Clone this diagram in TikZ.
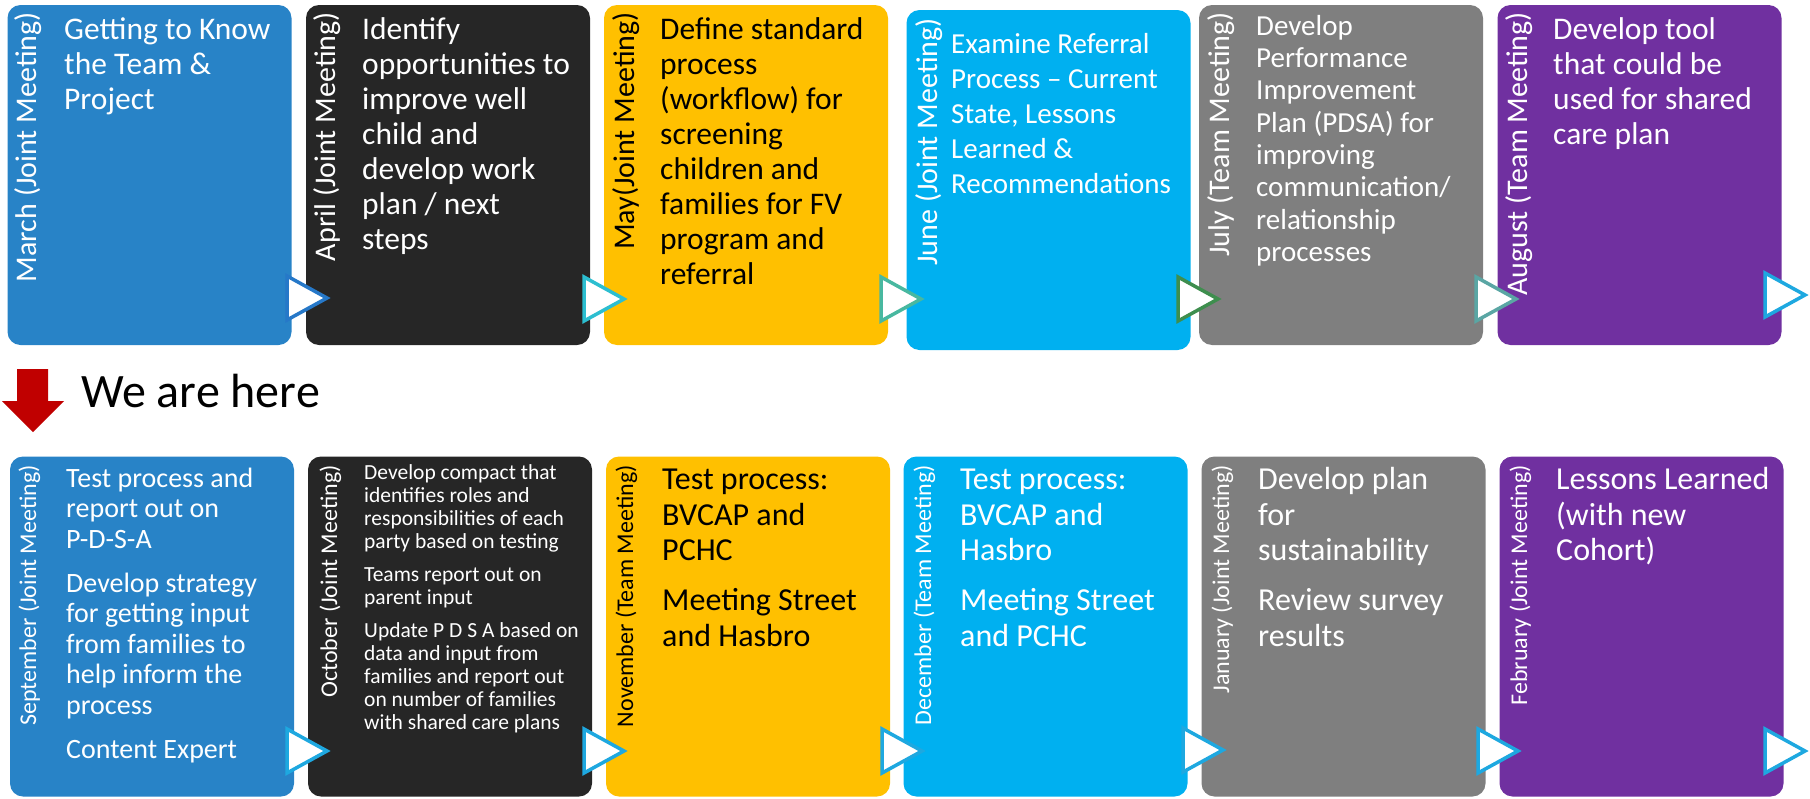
\documentclass[tikz,border=0pt]{standalone}
\usepackage{fontspec}
\setmainfont{Carlito}
\definecolor{mblue}{RGB}{40,131,199}
\definecolor{mdark}{RGB}{38,38,38}
\definecolor{mgold}{RGB}{255,192,0}
\definecolor{mcyan}{RGB}{0,176,240}
\definecolor{mgray}{RGB}{127,127,127}
\definecolor{mpurple}{RGB}{112,48,160}
\definecolor{mred}{RGB}{192,0,0}
\definecolor{tblue}{RGB}{38,120,200}
\definecolor{tteal}{RGB}{44,190,208}
\definecolor{tsea}{RGB}{72,184,160}
\definecolor{tgreen}{RGB}{62,142,78}
\definecolor{tslate}{RGB}{90,166,164}
\definecolor{tsky}{RGB}{30,168,224}
\begin{document}
\begin{tikzpicture}[
  x=1pt,y=-1pt,
  box/.style={rectangle,rounded corners=13pt,minimum width=284pt,minimum height=340pt,inner sep=0pt},
  month/.style={rotate=90,anchor=base east,inner sep=0pt,text=white,font=\fontsize{30}{34}\selectfont},
  month2/.style={month,font=\fontsize{24}{28}\selectfont},
  task/.style={anchor=north west,align=left,inner sep=0pt,text=white,font=\fontsize{31.5}{35}\selectfont},
  tri/.style={fill=white,line width=3.5pt,line join=miter}
]
\useasboundingbox (0,0) rectangle (1810,798);
\node[box,fill=mblue] (mar) at (149.5,175) {};
\node[box,fill=mdark] (apr) at (448,175) {};
\node[box,fill=mgold] (may) at (746,175) {};
\node[box,fill=mcyan] (jun) at (1048.5,180) {};
\node[box,fill=mgray] (jul) at (1341,175) {};
\node[box,fill=mpurple] (aug) at (1639.5,175) {};
\node[box,fill=mblue] (sep) at (152,626.5) {};
\node[box,fill=mdark] (oct) at (450,626.5) {};
\node[box,fill=mgold] (nov) at (748,626.5) {};
\node[box,fill=mcyan] (dec) at (1045.5,626.5) {};
\node[box,fill=mgray] (jan) at (1343.5,626.5) {};
\node[box,fill=mpurple] (feb) at (1641.5,626.5) {};
\draw[tri,draw=tblue] (287,276) -- (327,298) -- (287,320) -- cycle;
\draw[tri,draw=tteal] (584,277) -- (624,299) -- (584,321) -- cycle;
\draw[tri,draw=tsea] (881,277) -- (921,299) -- (881,321) -- cycle;
\draw[tri,draw=tgreen] (1178,277) -- (1218,299) -- (1178,321) -- cycle;
\draw[tri,draw=tslate] (1476,277) -- (1516,299) -- (1476,321) -- cycle;
\draw[tri,draw=tsky] (1765,273) -- (1805,295) -- (1765,317) -- cycle;
\draw[tri,draw=tsky] (287,729) -- (327,751) -- (287,773) -- cycle;
\draw[tri,draw=tsky] (584,729) -- (624,751) -- (584,773) -- cycle;
\draw[tri,draw=tsky] (882,729) -- (922,751) -- (882,773) -- cycle;
\draw[tri,draw=tsky] (1183,728) -- (1223,750) -- (1183,772) -- cycle;
\draw[tri,draw=tsky] (1478,729) -- (1518,751) -- (1478,773) -- cycle;
\draw[tri,draw=tsky] (1765,729) -- (1805,751) -- (1765,773) -- cycle;
\node[month] (marm) at (36,12) {March (Joint Meeting)};
\node[month] (aprm) at (335,12) {April (Joint Meeting)};
\node[month,text=black] (maym) at (634,12) {May(Joint Meeting)};
\node[month] (junm) at (937,18) {June (Joint Meeting)};
\node[month] (julm) at (1229,12) {July (Team Meeting)};
\node[month] (augm) at (1527,12) {August (Team Meeting)};
\node[month2] (sepm) at (36,465) {September (Joint Meeting)};
\node[month2] (octm) at (337,465) {October (Joint Meeting)};
\node[month2,text=black] (novm) at (633,465) {November (Team Meeting)};
\node[month2] (decm) at (931,465) {December (Team Meeting)};
\node[month2] (janm) at (1229,465) {January (Joint Meeting)};
\node[month2] (febm) at (1527,465) {February (Joint Meeting)};
\node[task] (mart) at (64,14.5) {\strut Getting to Know\\the Team \&\\Project};
\node[task] (aprt) at (362,14.5) {\strut Identify\\opportunities to\\improve well\\child and\\develop work\\plan / next\\steps};
\node[task,text=black] (mayt) at (660,14.5) {\strut Define standard\\process\\(workflow) for\\screening\\children and\\families for FV\\program and\\referral};
\node[task,font=\fontsize{29}{35}\selectfont] (junt) at (951,28.5) {\strut Examine Referral\\Process – Current\\State, Lessons\\Learned \&\\Recommendations};
\node[task,font=\fontsize{29}{32.3}\selectfont] (jult) at (1256,12.4) {\strut Develop\\Performance\\Improvement\\Plan (PDSA) for\\improving\\communication/\\relationship\\processes};
\node[task] (augt) at (1553,14.5) {\strut Develop tool\\that could be\\used for shared\\care plan};
\node[task,font=\fontsize{28}{30.6}\selectfont] (sept) at (66,465.6) {\strut Test process and\\report out on\\P-D-S-A\\[13pt]Develop strategy\\for getting input\\from families to\\help inform the\\process\\[13pt]Content Expert};
\node[task,font=\fontsize{21.5}{23}\selectfont] (octt) at (364,462.9) {\strut Develop compact that\\identifies roles and\\responsibilities of each\\party based on testing\\[10pt]Teams report out on\\parent input\\[10pt]Update P D S A based on\\data and input from\\families and report out\\on number of families\\with shared care plans};
\node[task,text=black,font=\fontsize{32}{35.8}\selectfont] (novt) at (662,464) {\strut Test process:\\BVCAP and\\PCHC\\[14pt]Meeting Street\\and Hasbro};
\node[task,font=\fontsize{32}{35.8}\selectfont] (dect) at (960,464) {\strut Test process:\\BVCAP and\\Hasbro\\[14pt]Meeting Street\\and PCHC};
\node[task,font=\fontsize{32}{35.8}\selectfont] (jant) at (1258,464) {\strut Develop plan\\for\\sustainability\\[14pt]Review survey\\results};
\node[task,font=\fontsize{32}{35.8}\selectfont] (febt) at (1556,464) {\strut Lessons Learned\\(with new\\Cohort)};
\fill[mred] (17,369) -- (48,369) -- (48,401) -- (64,401) -- (33,432) -- (2,401) -- (17,401) -- cycle;
\node[anchor=base west,inner sep=0pt,font=\fontsize{48}{56}\selectfont] (here) at (81,407) {We are here};
\end{tikzpicture}
\end{document}
